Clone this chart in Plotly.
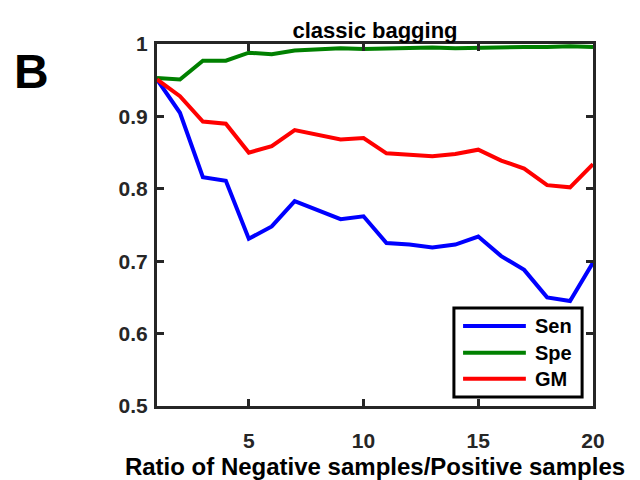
import plotly.graph_objects as go

# Ratio of negative to positive samples
ratio = list(range(1, 21))

sen = [0.951, 0.905, 0.816, 0.811, 0.731, 0.748, 0.783, 0.770, 0.758, 0.762,
       0.725, 0.723, 0.719, 0.723, 0.734, 0.707, 0.688, 0.650, 0.645, 0.698]
spe = [0.953, 0.951, 0.977, 0.977, 0.988, 0.986, 0.991, 0.993, 0.994, 0.993,
       0.994, 0.995, 0.995, 0.994, 0.995, 0.996, 0.996, 0.996, 0.997, 0.996]
gm = [0.951, 0.928, 0.893, 0.890, 0.850, 0.859, 0.881, 0.875, 0.868, 0.870,
      0.849, 0.847, 0.845, 0.848, 0.854, 0.839, 0.828, 0.805, 0.802, 0.834]

series = [("Sen", sen, "#0000FF"), ("Spe", spe, "#008000"), ("GM", gm, "#FF0000")]

x_ticks = [5, 10, 15, 20]
y_ticks = [0.5, 0.6, 0.7, 0.8, 0.9, 1.0]
y_tick_text = ["0.5", "0.6", "0.7", "0.8", "0.9", "1"]

axis_color = "#262626"
font_family = "Liberation Sans, Arial, sans-serif"

fig = go.Figure()
for name, vals, color in series:
    fig.add_trace(go.Scatter(x=ratio, y=vals, mode="lines", name=name,
                             line=dict(color=color, width=4), showlegend=False))

common_axis = dict(showline=True, linewidth=3, linecolor=axis_color, mirror="allticks",
                   ticks="inside", ticklen=7, tickwidth=3, tickcolor=axis_color,
                   showgrid=False, zeroline=False, automargin=False,
                   tickfont=dict(family=font_family, size=21, color=axis_color, weight="bold"))

fig.update_xaxes(range=[1, 20], tickvals=x_ticks, ticklabelstandoff=14,
                 title=dict(text="Ratio of Negative samples/Positive samples",
                            font=dict(family=font_family, size=24, color="black", weight="bold"),
                            standoff=8),
                 **common_axis)
fig.update_yaxes(range=[0.5, 1], tickvals=y_ticks, ticktext=y_tick_text, ticklabelstandoff=2,
                 **common_axis)

# Boxed legend in the lower-right corner of the axes (paper coordinates)
legend_box = dict(x0=0.681, x1=0.975, y0=0.025, y1=0.271)
legend_rows = [0.221, 0.147, 0.075]
sample_x0, sample_x1, label_x = 0.702, 0.846, 0.862

shapes = [dict(type="rect", xref="paper", yref="paper", layer="above",
               fillcolor="white", line=dict(color="black", width=3), **legend_box)]
annotations = []
for (name, _, color), row_y in zip(series, legend_rows):
    shapes.append(dict(type="line", xref="paper", yref="paper", layer="above",
                       x0=sample_x0, x1=sample_x1, y0=row_y, y1=row_y,
                       line=dict(color=color, width=4)))
    annotations.append(dict(text=name, xref="paper", yref="paper", x=label_x, y=row_y,
                            xanchor="left", yanchor="middle", showarrow=False,
                            font=dict(family=font_family, size=20, color="black", weight="bold")))

annotations.append(dict(text="B", xref="paper", yref="paper", x=-0.333, y=0.923,
                        xanchor="left", yanchor="middle", showarrow=False,
                        font=dict(family=font_family, size=48, color="black", weight="bold")))

fig.update_layout(
    width=640, height=480,
    margin=dict(l=157, r=47, t=44, b=74),
    paper_bgcolor="white", plot_bgcolor="white",
    title=dict(text="classic bagging", x=0.5, xref="paper", xanchor="center",
               y=1, yref="paper", yanchor="bottom", pad=dict(b=6),
               font=dict(family=font_family, size=22, color="black", weight="bold")),
    shapes=shapes,
    annotations=annotations,
)

fig.write_html("out.html")
